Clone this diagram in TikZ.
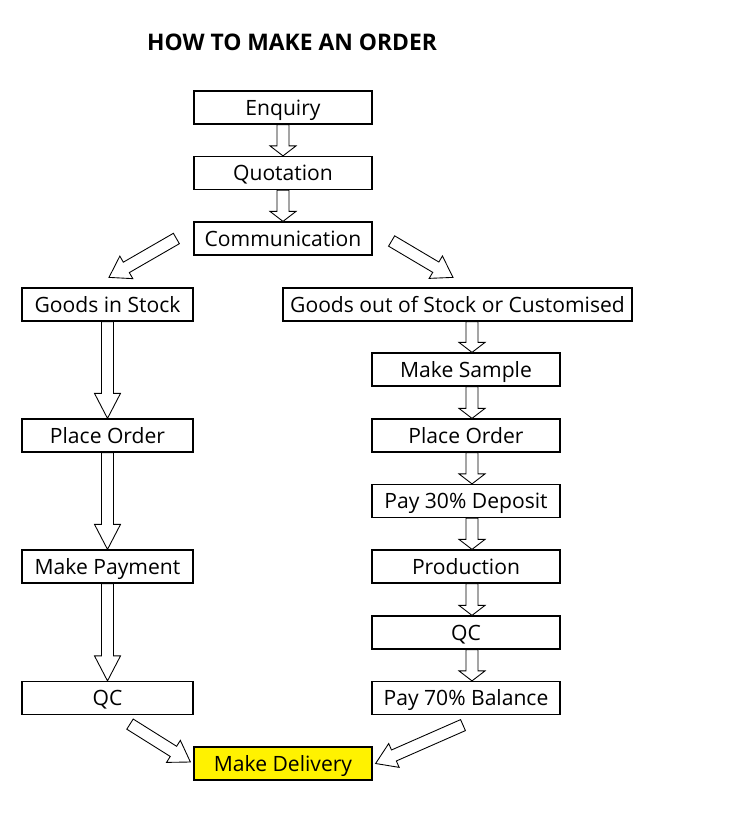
\documentclass[tikz,border=0pt]{standalone}
\usepackage{fontspec}
\setmainfont{Open Sans}
\usetikzlibrary{calc}
\def\blockarrow[#1](#2)(#3){%
	\coordinate (ba-a) at (#2);
	\coordinate (ba-b) at (#3);
	\coordinate (ba-n) at ($(ba-b)!#1!(ba-a)$);
	\draw[arrowbody] ($(ba-a)!0.12cm!90:(ba-b)$) -- ($(ba-n)!0.12cm!90:(ba-b)$) -- ($(ba-n)!0.26cm!90:(ba-b)$) -- (ba-b)
		-- ($(ba-n)!0.26cm!-90:(ba-b)$) -- ($(ba-n)!0.12cm!-90:(ba-b)$) -- ($(ba-a)!0.12cm!-90:(ba-b)$) -- cycle;}
\tikzset{
	box/.style={draw, line width=0.7pt, minimum width=3.56cm, minimum height=0.66cm, inner sep=0pt, text height=8.6pt, text depth=0pt, font=\fontsize{12}{14}\selectfont},
	arrowbody/.style={draw=black, fill=white, line width=0.5pt, line join=miter}
}

\begin{document}
\begin{tikzpicture}
			%%%%% START %%%%%
			\useasboundingbox (0, 0) rectangle (15, -16.36);
			
			\node[font=\fontsize{13}{15}\selectfont\bfseries] (title) at (5.84, -0.84) {HOW TO MAKE AN ORDER};
			
			\node[box] (enq) at (5.66, -2.15) {Enquiry};
			\node[box] (quo) at (5.66, -3.46) {Quotation};
			\node[box] (com) at (5.66, -4.77) {Communication};
			
			\node[box, minimum width=3.42cm] (gin) at (2.15, -6.09) {Goods in Stock};
			\node[box, minimum width=3.42cm] (porderl) at (2.15, -8.71) {Place Order};
			\node[box, minimum width=3.42cm] (pay) at (2.15, -11.33) {Make Payment};
			\node[box, minimum width=3.42cm] (qcl) at (2.15, -13.96) {QC};
			
			\node[box, minimum width=6.98cm] (gout) at (9.15, -6.09) {Goods out of Stock or Customised};
			\node[box, minimum width=3.76cm] (sample) at (9.32, -7.39) {Make Sample};
			\node[box, minimum width=3.76cm] (porderr) at (9.32, -8.71) {Place Order};
			\node[box, minimum width=3.76cm] (dep) at (9.32, -10.02) {Pay 30\% Deposit};
			\node[box, minimum width=3.76cm] (prod) at (9.32, -11.33) {Production};
			\node[box, minimum width=3.76cm] (qcr) at (9.32, -12.65) {QC};
			\node[box, minimum width=3.76cm] (bal) at (9.32, -13.96) {Pay 70\% Balance};
			
			\node[box, fill=yellow] (deliv) at (5.66, -15.27) {Make Delivery};
			
			% straight arrows
			\blockarrow[0.2cm](enq.south)(quo.north)
			\blockarrow[0.2cm](quo.south)(com.north)
			
			\blockarrow[0.5cm](gin.south)(porderl.north)
			\blockarrow[0.5cm](porderl.south)(pay.north)
			\blockarrow[0.5cm](pay.south)(qcl.north)
			
			\coordinate (rx) at (9.44, 0);
			\blockarrow[0.2cm](gout.south -| rx)(sample.north -| rx)
			\blockarrow[0.2cm](sample.south -| rx)(porderr.north -| rx)
			\blockarrow[0.2cm](porderr.south -| rx)(dep.north -| rx)
			\blockarrow[0.2cm](dep.south -| rx)(prod.north -| rx)
			\blockarrow[0.2cm](prod.south -| rx)(qcr.north -| rx)
			\blockarrow[0.2cm](qcr.south -| rx)(bal.north -| rx)
			
			% slanted arrows
			\coordinate (sl1) at ($(com.west)+(-0.34, 0)$);
			\coordinate (sl2) at ($(gin.north)+(0.03, 0.2)$);
			\blockarrow[0.4cm](sl1)(sl2)
			
			\coordinate (sr1) at ($(com.east)+(0.38, -0.05)$);
			\coordinate (sr2) at ($(gout.north)+(-0.09, 0.2)$);
			\blockarrow[0.4cm](sr1)(sr2)
			
			\coordinate (dl1) at ($(qcl.south)+(0.45, -0.18)$);
			\coordinate (dl2) at ($(deliv.west)+(-0.06, 0.03)$);
			\blockarrow[0.4cm](dl1)(dl2)
			
			\coordinate (dr1) at ($(bal.south)+(-0.06, -0.2)$);
			\coordinate (dr2) at ($(deliv.east)+(0.06, 0)$);
			\blockarrow[0.4cm](dr1)(dr2)
			
			%%%%% END %%%%%
\end{tikzpicture}
\end{document}
